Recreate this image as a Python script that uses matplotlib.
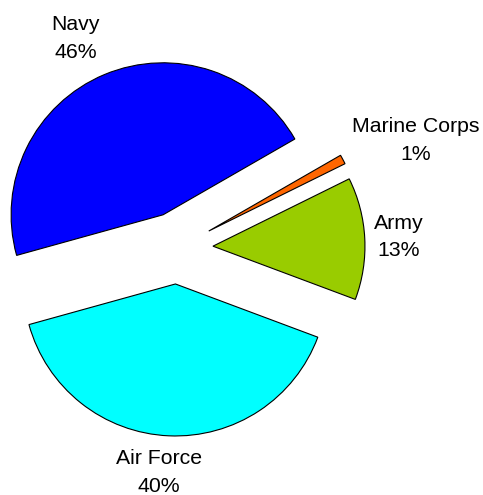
import matplotlib.pyplot as plt

# Répartition par service
services = ["Army", "Marine Corps", "Navy", "Air Force"]
parts = [13, 1, 46, 40]
couleurs = ["#99CC00", "#FF6600", "#0000FF", "#00FFFF"]

# position des étiquettes (x, ligne de base du nom), en pixels
pos_etiquettes = [(399, 266), (416, 363), (75.5, 465), (159, 31)]
interligne = 27.5

fig = plt.figure(figsize=(4.83, 4.95), dpi=100)
ax = fig.add_axes([0, 0, 1, 1])

# explode est en unités de données (pixels ici)
ax.pie(parts, colors=couleurs, startangle=-20.5, counterclock=True,
       center=(177, 247), radius=152, explode=[36] * len(parts),
       wedgeprops=dict(edgecolor="black", linewidth=0.8))

total = sum(parts)
for nom, val, (x, y) in zip(services, parts, pos_etiquettes):
    ax.text(x, y, nom, ha="center", va="baseline", fontsize=15.3,
            family="Liberation Sans")
    ax.text(x, y - interligne, f"{100 * val / total:.0f}%", ha="center",
            va="baseline", fontsize=15.3, family="Liberation Sans")

ax.set_xlim(0, 483)
ax.set_ylim(0, 495)
ax.set_aspect("equal")
ax.axis("off")

fig.savefig("out.png", dpi=100)
